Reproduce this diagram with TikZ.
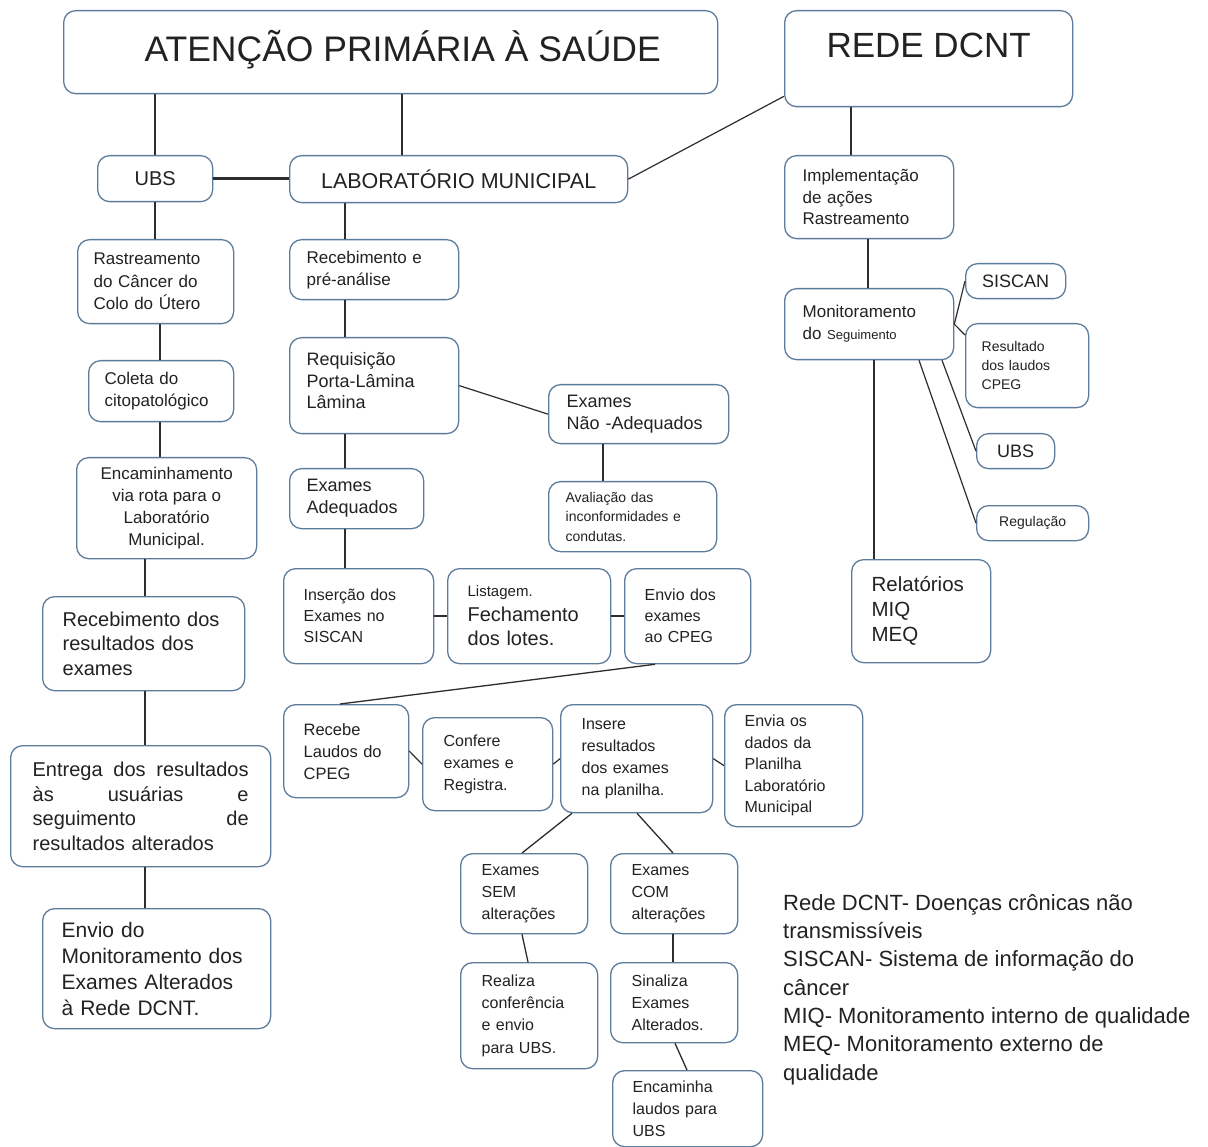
\documentclass[tikz,border=0pt]{standalone}
\usepackage{fontspec}
\setmainfont{Liberation Sans}
\usetikzlibrary{calc}
\definecolor{bord}{RGB}{92,124,156}
\definecolor{lnc}{RGB}{45,45,45}
\definecolor{txt}{RGB}{34,34,34}
\newcommand\fs[2]{\fontsize{#1}{#2}\selectfont}
% name, x1, y1, x2, y2, options, text
\newcommand\mkbox[7]{\pgfmathsetmacro\bw{#4-#2}\pgfmathsetmacro\bh{#5-#3}%
  \node[bx,minimum width=\bw pt,minimum height=\bh pt,#6] (#1) at (#2,#3) {#7};}
\tikzset{
  bx/.style={draw=bord, line width=1.3pt, rounded corners=12pt, fill=white,
    anchor=north west, inner sep=0pt, align=left, text=txt, font=\fs{16}{21.5}},
  ln/.style={draw=lnc, line width=1.6pt},
  thin ln/.style={draw=lnc, line width=1.2pt},
}
\begin{document}
\begin{tikzpicture}[x=1pt,y=-1pt]
\useasboundingbox (0,0) rectangle (1208,1147);
\fill[white] (0,0) rectangle (1208,1147);
% ---- top level
\mkbox{aps}{63}{10}{717}{93}{font=\fs{35.5}{40}, align=center}{\raisebox{13pt}{\hspace{24pt}ATENÇÃO PRIMÁRIA À SAÚDE}}
\mkbox{rede}{784}{10}{1072}{106}{font=\fs{35}{40}, align=center}{\raisebox{26pt}{REDE DCNT}}
\mkbox{ubs}{97}{155}{212}{201}{font=\fs{20}{24}, align=center}{UBS}
\mkbox{lab}{289}{155}{627}{202}{font=\fs{21.5}{24}, align=center}{LABORATÓRIO MUNICIPAL}
% ---- left column
\mkbox{rast}{77}{239}{233}{323}{font=\fs{17}{22.5}, text width=124pt}{Rastreamento\\do Câncer do\\Colo do Útero}
\mkbox{coleta}{88}{360}{233}{421}{font=\fs{17}{22.5}, text width=113pt}{Coleta do\\citopatológico}
\mkbox{enc}{76}{457}{256}{558}{font=\fs{17}{22.3}, align=center}{Encaminhamento\\via rota para o\\Laboratório\\Municipal.}
\mkbox{rec}{42}{596}{244}{690}{font=\fs{20}{24.5}, text width=162pt}{Recebimento dos\\resultados dos\\exames}
\mkbox{ent}{10}{745}{270}{866}{font=\fs{20}{24.5}, text width=216pt}{Entrega\hfill dos\hfill resultados\\às\hfill usuárias\hfill e\\seguimento\hfill de\\resultados alterados}
\mkbox{env}{42}{908}{270}{1028}{font=\fs{21}{26}, text width=190pt}{Envio do\\Monitoramento dos\\Exames Alterados\\à Rede DCNT.}
% ---- middle column
\mkbox{recpre}{289}{239}{458}{299}{font=\fs{17}{22}, text width=135pt}{Recebimento e\\pré-análise}
\mkbox{req}{289}{337}{458}{433}{font=\fs{18}{21.5}, text width=135pt}{Requisição\\Porta-Lâmina\\Lâmina\rule[-10pt]{0pt}{1pt}}
\mkbox{nao}{548}{384}{728}{443}{font=\fs{18}{22}, text width=144pt}{Exames\\Não -Adequados}
\mkbox{aval}{548}{481}{716}{551}{font=\fs{14}{19.5}, text width=134pt}{Avaliação das\\inconformidades e\\condutas.}
\mkbox{adeq}{289}{468}{423}{528}{font=\fs{18}{22}, text width=100pt}{Exames\\Adequados}
\mkbox{ins}{283}{568}{433}{663}{font=\fs{16}{21}, text width=110pt}{Inserção dos\\Exames no\\SISCAN}
\mkbox{list}{447}{568}{610}{663}{font=\fs{20}{24.5}, text width=123pt}{{\fs{15}{18}Listagem.}\\Fechamento\\dos lotes.}
\mkbox{envio}{624}{568}{750}{663}{font=\fs{16}{21}, text width=86pt}{Envio dos\\exames\\ao CPEG}
\mkbox{receb}{283}{704}{408}{797}{font=\fs{16.5}{22}, text width=85pt}{Recebe\\Laudos do\\CPEG}
\mkbox{conf}{422}{717}{552}{810}{font=\fs{16}{22}, text width=88pt}{Confere\\exames e\\Registra.}
\mkbox{insere}{560}{704}{712}{812}{font=\fs{16}{22}, text width=110pt}{Insere\\resultados\\dos exames\\na planilha.}
\mkbox{envia}{724}{704}{862}{826}{font=\fs{16}{21.5}, text width=98pt}{Envia os\\dados da\\Planilha\\Laboratório\\Municipal}
\mkbox{sem}{460}{853}{587}{933}{font=\fs{16}{22}, text width=85pt}{Exames\\SEM\\alterações}
\mkbox{com}{610}{853}{737}{933}{font=\fs{16}{22}, text width=85pt}{Exames\\COM\\alterações}
\mkbox{real}{460}{962}{597}{1068}{font=\fs{16}{22.3}, text width=95pt}{Realiza\\conferência\\e envio\\para UBS.}
\mkbox{sin}{610}{962}{737}{1042}{font=\fs{16}{22}, text width=85pt}{Sinaliza\\Exames\\Alterados.}
\mkbox{encam}{612}{1070}{762}{1146}{font=\fs{16}{22}, text width=110pt}{Encaminha\\laudos para\\UBS}
% ---- right column
\mkbox{impl}{784}{155}{953}{238}{font=\fs{17}{21.5}, text width=133pt}{Implementação\\de ações\\Rastreamento}
\mkbox{mon}{784}{288}{953}{359}{font=\fs{17}{22}, text width=133pt}{Monitoramento\\do {\fs{13}{22}Seguimento}}
\mkbox{siscan}{965}{263}{1065}{298}{font=\fs{18}{22}, align=center}{SISCAN}
\mkbox{result}{965}{323}{1088}{407}{font=\fs{14}{19}, text width=91pt}{Resultado\\dos laudos\\CPEG}
\mkbox{ubstwo}{976}{433}{1054}{468}{font=\fs{18}{22}, align=center}{UBS}
\mkbox{regul}{976}{505}{1088}{540}{font=\fs{14}{18}, align=center}{Regulação}
\mkbox{relat}{851}{559}{990}{662}{font=\fs{20.5}{25}, text width=99pt}{Relatórios\\MIQ\\MEQ}
% ---- legend
\node[anchor=north west, inner sep=0pt, align=left, text=txt, font=\fs{22}{28.3}] (legend) at (783,894)
  {Rede DCNT- Doenças crônicas não\\transmissíveis\\SISCAN- Sistema de informação do\\câncer\\MIQ- Monitoramento interno de qualidade\\MEQ- Monitoramento externo de\\qualidade};
% ---- connectors
\draw[ln] (aps.south -| ubs.north) -- (ubs.north);
\draw[ln] (aps.south -| 402,0) -- (lab.north -| 402,0);
\draw[ln, line width=2.4pt] (ubs.east) -- (ubs.east -| lab.west);
\draw[thin ln] (lab.east) -- ([yshift=11pt]rede.south west);
\draw[ln] (rede.south -| 851,0) -- (impl.north -| 851,0);
\draw[ln] (ubs.south) -- (ubs.south |- rast.north);
\draw[ln] (rast.south -| 160,0) -- (coleta.north -| 160,0);
\draw[ln] (coleta.south -| 160,0) -- (enc.north -| 160,0);
\draw[ln] (enc.south -| 145,0) -- (rec.north -| 145,0);
\draw[ln] (rec.south -| 145,0) -- (ent.north -| 145,0);
\draw[ln] (ent.south -| 145,0) -- (env.north -| 145,0);
\draw[ln] (lab.south -| 345,0) -- (recpre.north -| 345,0);
\draw[ln] (recpre.south -| 345,0) -- (req.north -| 345,0);
\draw[ln] (req.south -| 345,0) -- (adeq.north -| 345,0);
\draw[ln] (adeq.south -| 345,0) -- (ins.north -| 345,0);
\draw[thin ln] (req.east) -- (nao.west);
\draw[ln] (nao.south -| 603,0) -- (aval.north -| 603,0);
\draw[ln] (ins.east) -- (list.west);
\draw[ln] (list.east) -- (envio.west);
\draw[ln, line width=1.3pt] (envio.south -| 655,0) -- (receb.north -| 340,0);
\draw[thin ln] (receb.east) -- (conf.west);
\draw[thin ln] (conf.east) -- (insere.west);
\draw[thin ln] (insere.east) -- (envia.west);
\draw[ln, line width=1.3pt] (insere.south -| 572,0) -- (sem.north -| 522,0);
\draw[ln, line width=1.3pt] (insere.south -| 637,0) -- (com.north -| 673,0);
\draw[ln, line width=1.3pt] (sem.south -| 522,0) -- (real.north -| 528,0);
\draw[ln, line width=1.3pt] (com.south -| 673,0) -- (sin.north -| 673,0);
\draw[ln, line width=1.3pt] (sin.south -| 675,0) -- (encam.north -| 687,0);
\draw[ln] (impl.south -| 868,0) -- (mon.north -| 868,0);
\draw[thin ln] (mon.east) -- (siscan.west);
\draw[thin ln] (mon.east) -- ([yshift=-12pt]result.north west);
\draw[thin ln] (mon.south -| 942,0) -- (ubstwo.west);
\draw[thin ln] (mon.south -| 919,0) -- (regul.west);
\draw[ln] (mon.south -| 874,0) -- (relat.north -| 874,0);
\end{tikzpicture}
\end{document}
